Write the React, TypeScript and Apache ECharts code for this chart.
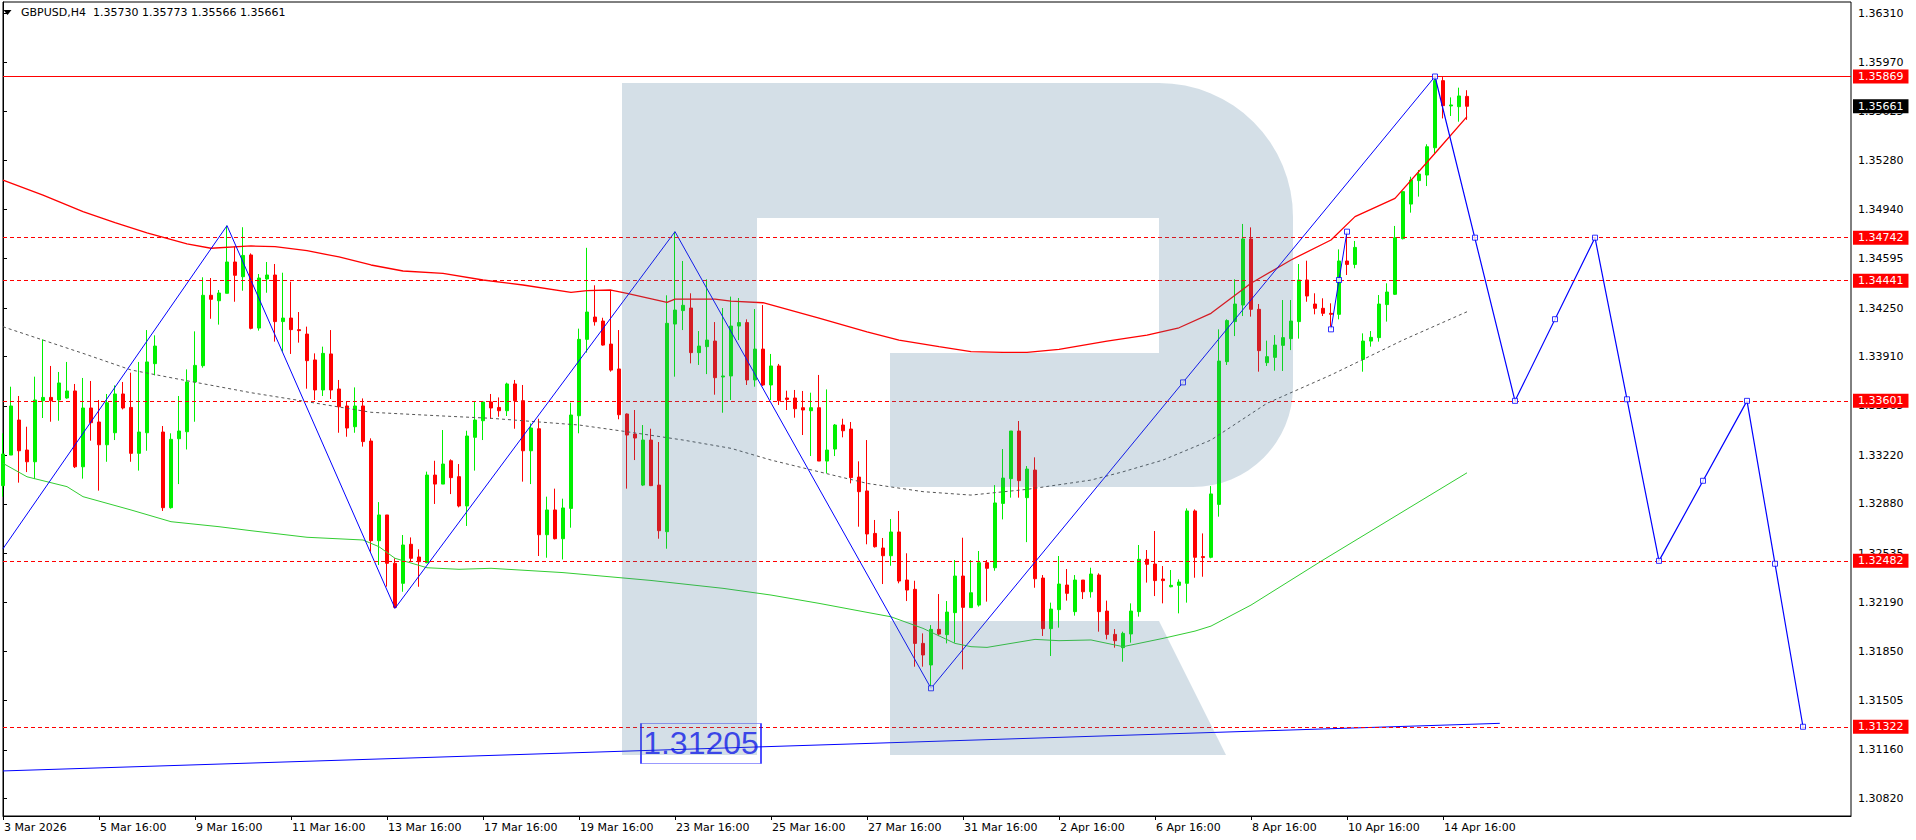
import React, { useEffect, useRef } from 'react';
import * as echarts from 'echarts';

const symbolName = 'GBPUSD';
const timeframe = 'H4';

const dateLabels = ['3 Mar 2026', '5 Mar 16:00', '9 Mar 16:00', '11 Mar 16:00', '13 Mar 16:00', '17 Mar 16:00', '19 Mar 16:00', '23 Mar 16:00', '25 Mar 16:00', '27 Mar 16:00', '31 Mar 16:00', '2 Apr 16:00', '6 Apr 16:00', '8 Apr 16:00', '10 Apr 16:00', '14 Apr 16:00'];
const barsPerLabel = 12;
const totalSlots = 232;

const yTickLabels = ['1.36310', '1.35970', '1.35625', '1.35280', '1.34940', '1.34595', '1.34250', '1.33910', '1.33565', '1.33220', '1.32880', '1.32535', '1.32190', '1.31850', '1.31505', '1.31160', '1.30820'];
const yMin = 1.30698;
const yMax = 1.3639;

const opens = [1.33008, 1.33222, 1.33467, 1.33257, 1.33175, 1.33602, 1.33625, 1.33607, 1.33621, 1.3367, 1.3314, 1.33551, 1.33453, 1.33294, 1.33378, 1.33649, 1.33555, 1.33234, 1.33378, 1.33861, 1.33383, 1.32854, 1.33336, 1.33385, 1.33733, 1.33847, 1.34339, 1.34301, 1.34353, 1.34572, 1.34469, 1.34621, 1.3411, 1.34453, 1.34481, 1.34155, 1.3418, 1.34099, 1.34068, 1.33887, 1.33677, 1.33929, 1.33684, 1.33565, 1.3342, 1.33565, 1.3332, 1.32623, 1.32803, 1.32465, 1.32325, 1.32598, 1.32509, 1.32469, 1.33082, 1.33019, 1.33182, 1.33071, 1.32866, 1.33346, 1.33462, 1.33593, 1.33555, 1.33532, 1.33719, 1.33602, 1.33252, 1.33406, 1.32665, 1.32838, 1.32637, 1.32849, 1.33497, 1.34031, 1.34187, 1.34159, 1.33998, 1.33824, 1.33509, 1.33369, 1.33012, 1.33327, 1.33012, 1.32686, 1.34138, 1.34232, 1.3425, 1.33938, 1.3398, 1.34019, 1.33768, 1.33775, 1.34124, 1.34148, 1.33747, 1.33963, 1.33712, 1.33845, 1.33621, 1.33621, 1.33553, 1.33532, 1.33553, 1.3318, 1.33264, 1.33432, 1.33404, 1.33068, 1.32971, 1.32674, 1.32572, 1.32518, 1.32684, 1.32348, 1.32283, 1.31905, 1.31754, 1.32003, 1.31966, 1.3212, 1.32376, 1.32155, 1.32173, 1.32469, 1.32434, 1.32884, 1.33057, 1.3339, 1.32924, 1.33117, 1.32362, 1.32008, 1.32141, 1.32313, 1.32127, 1.32348, 1.32266, 1.32383, 1.32131, 1.31968, 1.31875, 1.31971, 1.32127, 1.32493, 1.3246, 1.32355, 1.32301, 1.32311, 1.32325, 1.32831, 1.32512, 1.32507, 1.32877, 1.33875, 1.34155, 1.34271, 1.34733, 1.34241, 1.33868, 1.33905, 1.33989, 1.34036, 1.34155, 1.34446, 1.34278, 1.34248, 1.34213, 1.34206, 1.34579, 1.34555, 1.33891, 1.34019, 1.34043, 1.34274, 1.34346, 1.34735, 1.34977, 1.35141, 1.3518, 1.35371, 1.3584, 1.35663, 1.35658, 1.3573];
const highs = [1.33374, 1.337, 1.33635, 1.3342, 1.3377, 1.34031, 1.33845, 1.33803, 1.33873, 1.33719, 1.33761, 1.3374, 1.33607, 1.33649, 1.33709, 1.33733, 1.33798, 1.33873, 1.34096, 1.34059, 1.33425, 1.33374, 1.33635, 1.33821, 1.34087, 1.34465, 1.3446, 1.34376, 1.34826, 1.34679, 1.34815, 1.34632, 1.34488, 1.34572, 1.34558, 1.34497, 1.34434, 1.34222, 1.3412, 1.33933, 1.3398, 1.34096, 1.33747, 1.33595, 1.33695, 1.33618, 1.33339, 1.32893, 1.32803, 1.325, 1.32663, 1.32646, 1.32563, 1.33106, 1.33182, 1.33397, 1.33192, 1.33159, 1.33392, 1.336, 1.336, 1.33649, 1.33625, 1.33728, 1.33747, 1.33712, 1.33443, 1.33476, 1.32931, 1.32987, 1.32917, 1.33588, 1.34106, 1.34671, 1.34409, 1.34182, 1.34376, 1.34096, 1.33513, 1.33537, 1.33432, 1.33406, 1.33313, 1.34339, 1.34784, 1.34579, 1.34353, 1.34089, 1.34451, 1.34152, 1.3425, 1.3433, 1.3432, 1.34171, 1.34243, 1.34271, 1.33929, 1.33859, 1.33672, 1.33677, 1.3367, 1.33658, 1.33782, 1.33681, 1.33439, 1.33476, 1.33453, 1.33178, 1.33327, 1.32768, 1.32642, 1.32775, 1.32831, 1.32535, 1.32343, 1.31975, 1.32033, 1.3225, 1.32201, 1.32488, 1.32644, 1.32488, 1.32551, 1.32488, 1.33012, 1.33264, 1.3339, 1.3346, 1.33145, 1.33206, 1.32383, 1.3219, 1.32516, 1.32425, 1.32383, 1.32348, 1.32434, 1.32395, 1.32204, 1.32005, 1.31987, 1.32185, 1.32593, 1.32558, 1.32691, 1.32446, 1.32418, 1.32353, 1.32849, 1.32842, 1.32674, 1.33005, 1.34101, 1.34171, 1.34451, 1.34838, 1.34814, 1.34278, 1.34022, 1.34061, 1.34306, 1.34306, 1.34558, 1.34581, 1.34353, 1.34318, 1.34283, 1.3466, 1.34777, 1.34719, 1.34073, 1.34089, 1.34341, 1.34423, 1.34824, 1.35064, 1.35168, 1.35215, 1.35395, 1.35869, 1.35865, 1.35723, 1.35791, 1.35773];
const lows = [1.32931, 1.33222, 1.33029, 1.33103, 1.33054, 1.33481, 1.33455, 1.33462, 1.33616, 1.33131, 1.33057, 1.33322, 1.32973, 1.33175, 1.33327, 1.33541, 1.33175, 1.33113, 1.33252, 1.33779, 1.32831, 1.32847, 1.33019, 1.33261, 1.33455, 1.33833, 1.34175, 1.34134, 1.34353, 1.34294, 1.34371, 1.34101, 1.34092, 1.34357, 1.34015, 1.33945, 1.33929, 1.34008, 1.33686, 1.33607, 1.33635, 1.33614, 1.33378, 1.3335, 1.33378, 1.33281, 1.32546, 1.32453, 1.32302, 1.3215, 1.32266, 1.32476, 1.32301, 1.32465, 1.3288, 1.33019, 1.32949, 1.32856, 1.32726, 1.33113, 1.33327, 1.33476, 1.3349, 1.33495, 1.33406, 1.33036, 1.33019, 1.32516, 1.32504, 1.32632, 1.32492, 1.32714, 1.33374, 1.33938, 1.34127, 1.33987, 1.33805, 1.33472, 1.32987, 1.33187, 1.33005, 1.33005, 1.32637, 1.32567, 1.3377, 1.34096, 1.33863, 1.33852, 1.33788, 1.33644, 1.33518, 1.33607, 1.34026, 1.33712, 1.337, 1.33705, 1.33607, 1.33572, 1.33537, 1.33483, 1.33362, 1.33215, 1.3318, 1.33094, 1.33215, 1.33346, 1.33024, 1.32721, 1.32598, 1.32575, 1.3232, 1.32448, 1.32325, 1.32201, 1.31742, 1.31742, 1.316, 1.31956, 1.31905, 1.3191, 1.31723, 1.32155, 1.32162, 1.32197, 1.32413, 1.32772, 1.32924, 1.32924, 1.32613, 1.32294, 1.31957, 1.31817, 1.32015, 1.32204, 1.32099, 1.32215, 1.32225, 1.31987, 1.31933, 1.31875, 1.31777, 1.3191, 1.32092, 1.3233, 1.32236, 1.32185, 1.32297, 1.32115, 1.3219, 1.32364, 1.32371, 1.325, 1.32791, 1.33852, 1.34054, 1.34194, 1.3419, 1.33805, 1.33845, 1.33812, 1.3381, 1.33956, 1.34036, 1.34294, 1.34206, 1.34194, 1.3412, 1.34171, 1.34481, 1.34528, 1.33805, 1.3398, 1.34015, 1.34155, 1.34341, 1.3473, 1.34917, 1.35029, 1.35103, 1.35332, 1.35576, 1.35593, 1.35553, 1.35566];
const closes = [1.33229, 1.33565, 1.33252, 1.33175, 1.33607, 1.33625, 1.33602, 1.33726, 1.3367, 1.3314, 1.33551, 1.33448, 1.33294, 1.33588, 1.33649, 1.33551, 1.33234, 1.33383, 1.33873, 1.33984, 1.32854, 1.33332, 1.3339, 1.33733, 1.33849, 1.34339, 1.34311, 1.34355, 1.34572, 1.34479, 1.34618, 1.34108, 1.3446, 1.34481, 1.34155, 1.3418, 1.34099, 1.34092, 1.33882, 1.33677, 1.33933, 1.33677, 1.3356, 1.33411, 1.33565, 1.33316, 1.32623, 1.32803, 1.32465, 1.32157, 1.32593, 1.325, 1.32476, 1.33082, 1.33019, 1.33159, 1.33064, 1.32866, 1.33355, 1.33467, 1.33593, 1.33551, 1.33532, 1.33719, 1.33602, 1.33252, 1.33411, 1.32665, 1.32838, 1.32637, 1.32852, 1.33502, 1.34031, 1.34222, 1.34154, 1.33991, 1.33816, 1.33504, 1.33362, 1.33341, 1.33327, 1.33008, 1.32693, 1.34143, 1.34236, 1.34269, 1.33938, 1.33984, 1.34026, 1.33763, 1.33775, 1.34124, 1.34148, 1.33747, 1.33963, 1.33712, 1.33845, 1.33602, 1.33611, 1.33546, 1.33537, 1.33553, 1.3318, 1.33257, 1.33432, 1.33392, 1.33064, 1.32966, 1.3267, 1.32581, 1.32518, 1.32684, 1.32341, 1.32278, 1.31905, 1.31824, 1.32003, 1.3197, 1.32124, 1.32376, 1.32157, 1.32259, 1.32469, 1.3243, 1.32887, 1.33061, 1.3339, 1.33043, 1.33124, 1.32357, 1.32008, 1.32145, 1.3232, 1.32255, 1.32348, 1.32266, 1.3239, 1.32127, 1.31968, 1.31924, 1.31975, 1.32131, 1.32493, 1.32458, 1.32344, 1.32344, 1.32311, 1.32334, 1.32831, 1.32507, 1.32505, 1.3295, 1.33879, 1.34162, 1.34278, 1.34733, 1.34241, 1.33952, 1.3391, 1.33991, 1.34043, 1.34159, 1.34446, 1.34334, 1.34248, 1.34213, 1.34206, 1.34579, 1.34555, 1.34674, 1.34019, 1.34045, 1.34278, 1.34362, 1.34742, 1.35064, 1.35145, 1.35187, 1.35378, 1.3584, 1.35665, 1.3567, 1.35733, 1.35661];

const redMa = [[0, 1.35145], [5, 1.3504], [10, 1.34924], [14, 1.34847], [18, 1.34775], [23, 1.34698], [26, 1.34668], [31, 1.34684], [34, 1.34679], [38, 1.34651], [42, 1.34607], [46, 1.34551], [50, 1.34509], [55, 1.34493], [60, 1.34446], [65, 1.34411], [71, 1.3436], [73, 1.34372], [76, 1.34376], [78, 1.34353], [83, 1.3429], [84, 1.34313], [89, 1.34313], [91, 1.34299], [95, 1.34287], [102, 1.3418], [108, 1.34084], [112, 1.34026], [117, 1.3398], [121, 1.33945], [125, 1.3394], [128, 1.3394], [132, 1.33961], [138, 1.34019], [143, 1.34061], [147, 1.34112], [151, 1.34213], [156, 1.34423], [161, 1.34586], [166, 1.34726], [169, 1.34889], [174, 1.35017], [179, 1.35332], [183, 1.35588]];
const grayMa = [[0, 1.34119], [10, 1.33933], [16, 1.33817], [22, 1.33752], [31, 1.33658], [38, 1.33595], [46, 1.33521], [55, 1.33495], [61, 1.33479], [72, 1.33432], [78, 1.33385], [85, 1.33327], [91, 1.33269], [96, 1.33187], [102, 1.33105], [108, 1.33024], [115, 1.32966], [121, 1.32942], [128, 1.32982], [136, 1.33047], [140, 1.33105], [145, 1.33187], [151, 1.33327], [158, 1.33584], [166, 1.33782], [175, 1.34026], [183, 1.34224]];
const greenMa = [[0, 1.33164], [3, 1.3307], [8, 1.33001], [10, 1.32931], [16, 1.32838], [21, 1.32756], [27, 1.32721], [31, 1.32693], [38, 1.32647], [45, 1.32628], [47, 1.32581], [49, 1.325], [53, 1.32434], [57, 1.32423], [61, 1.3243], [70, 1.324], [81, 1.32345], [90, 1.3229], [96, 1.32243], [102, 1.32185], [108, 1.32122], [111, 1.32091], [115, 1.3201], [119, 1.31905], [121, 1.31882], [123, 1.31877], [129, 1.31933], [132, 1.31924], [136, 1.31929], [140, 1.31882], [145, 1.3194], [149, 1.31991], [151, 1.32026], [156, 1.32173], [161, 1.32348], [165, 1.32488], [183, 1.33098]];

const historyZigzag = [[0, 1.32567], [28, 1.34826], [49, 1.3215], [84, 1.34784], [116, 1.31591], [179, 1.35869]];
const minorZigzag = [[166, 1.34101], [167, 1.34446], [168, 1.34784]];
const forecastZigzag = [[179, 1.35869], [189, 1.33601], [199, 1.34742], [207, 1.32482], [218, 1.33601], [225, 1.31322]];
const zigzagMarkers = [[116, 1.31591], [147.5, 1.3373], [166, 1.34101], [167, 1.34446], [168, 1.34784], [179, 1.35869], [184, 1.34742], [189, 1.33601], [194, 1.34172], [199, 1.34742], [203, 1.33612], [207, 1.32482], [212.5, 1.33042], [218, 1.33601], [221.5, 1.32462], [225, 1.31322]];
const trendLine = [[0, 1.31013], [187.1, 1.31346]];
const trendText = { bar: 87.25, price: 1.31205, text: '1.31205' };

const peakLevel = 1.35869;
const currentPrice = 1.35661;
const dashedLevels = [1.34742, 1.34441, 1.33601, 1.32482, 1.31322];

const UP = '#00f000';
const DOWN = '#ff0000';
const FONT = 'DejaVu Sans';

const R_PATH = 'M622 83 L1159 83 A134 134 0 0 1 1293 217 L1293 387 A100 100 0 0 1 1193 487 L890 487 L890 353 L1159 353 L1159 218 L757 218 L757 755 L622 755 Z M890 621 L1159 621 L1226 755 L890 755 Z';
echarts.graphic.registerShape('rlogo', echarts.graphic.extendPath(R_PATH, {}));

export default function App() {
  const ref = useRef<HTMLDivElement>(null);
  useEffect(() => {
    const chart = echarts.init(ref.current!, null, { renderer: 'svg' });
    const categories: string[] = [];
    for (let i = 0; i < totalSlots; i++) {
      const k = i / barsPerLabel;
      categories.push(i % barsPerLabel === 0 && k < dateLabels.length ? dateLabels[k] : '');
    }
    const showAt = (index: number, value: string) => value !== '';
    const candleData = opens.map((o, i) => [o, closes[i], lows[i], highs[i]]);
    const last = candleData.length - 1;
    const titleText = `${symbolName},${timeframe}  ${opens[last].toFixed(5)} ${highs[last].toFixed(5)} ${lows[last].toFixed(5)} ${closes[last].toFixed(5)}`;
    const tickVals = yTickLabels.map(Number);
    const lvlLabel = (bg: string, v: number) => ({
      show: true,
      position: 'end',
      distance: 2,
      formatter: v.toFixed(5),
      backgroundColor: bg,
      color: '#fff',
      fontFamily: FONT,
      fontSize: 11,
      lineHeight: 12,
      padding: [1, 5, 1, 5],
    });
    const markLineData: any[] = [
      { yAxis: peakLevel, lineStyle: { color: '#ff0000', type: 'solid', width: 1 }, label: lvlLabel('#ff0000', peakLevel) },
      ...dashedLevels.map((v) => ({ yAxis: v, lineStyle: { color: '#ff0000', type: [4, 3], width: 1 }, label: lvlLabel('#ff0000', v) })),
      { yAxis: currentPrice, lineStyle: { color: 'rgba(0,0,0,0)', width: 1 }, label: lvlLabel('#000000', currentPrice) },
    ];
    const option: any = {
      animation: false,
      backgroundColor: '#ffffff',
      title: {
        text: titleText,
        left: 21,
        top: 7,
        padding: 0,
        textStyle: { fontFamily: FONT, fontSize: 11, fontWeight: 'normal', color: '#000' },
      },
      grid: { left: 3, right: 65, top: 2, bottom: 24, show: true, borderColor: '#000', borderWidth: 1, backgroundColor: 'transparent' },
      xAxis: [
        {
          type: 'category',
          data: categories,
          boundaryGap: false,
          axisLine: { show: true, lineStyle: { color: '#000', width: 1 } },
          axisTick: { show: true, interval: showAt, length: 4, lineStyle: { color: '#000' } },
          axisLabel: { interval: showAt, align: 'left', margin: 6, color: '#000', fontFamily: FONT, fontSize: 11, padding: [0, 0, 0, 1] },
          splitLine: { show: false },
        },
        { type: 'value', min: 0, max: totalSlots - 1, show: false },
      ],
      yAxis: [
        {
          type: 'value',
          position: 'right',
          min: yMin,
          max: yMax,
          scale: true,
          axisLine: { show: true, lineStyle: { color: '#000' } },
          axisTick: { show: true, length: 4, customValues: tickVals, lineStyle: { color: '#000' } },
          axisLabel: { customValues: tickVals, formatter: (v: number) => v.toFixed(5), color: '#000', fontFamily: FONT, fontSize: 11, margin: 7 },
          splitLine: { show: false },
        },
      ],
      graphic: [
        { type: 'rlogo', x: 0, y: 0, z: 100, silent: true, style: { fill: 'rgba(72,119,153,0.235)' } },
        { type: 'polygon', z: 110, silent: true, shape: { points: [[3.5, 10], [11.5, 10], [7.5, 15]] }, style: { fill: '#000' } },
      ],
      series: [
        {
          type: 'candlestick',
          xAxisIndex: 0,
          yAxisIndex: 0,
          data: candleData,
          barWidth: 4,
          z: 2,
          itemStyle: { color: UP, color0: DOWN, borderColor: UP, borderColor0: DOWN, borderWidth: 1 },
          markLine: { silent: true, precision: 5, symbol: ['none', 'none'], animation: false, data: markLineData },
        },
        { type: 'line', xAxisIndex: 1, yAxisIndex: 0, data: redMa, symbol: 'none', z: 3, lineStyle: { color: '#ff0000', width: 1.3 } },
        { type: 'line', xAxisIndex: 1, yAxisIndex: 0, data: grayMa, symbol: 'none', z: 3, lineStyle: { color: '#555555', width: 1, type: [3, 3] } },
        { type: 'line', xAxisIndex: 1, yAxisIndex: 0, data: greenMa, symbol: 'none', z: 3, lineStyle: { color: '#32cd32', width: 1 } },
        { type: 'line', xAxisIndex: 1, yAxisIndex: 0, data: trendLine, symbol: 'none', z: 4, lineStyle: { color: '#0000ff', width: 1 } },
        { type: 'line', xAxisIndex: 1, yAxisIndex: 0, data: historyZigzag, symbol: 'none', z: 4, lineStyle: { color: '#0000ff', width: 1 } },
        { type: 'line', xAxisIndex: 1, yAxisIndex: 0, data: minorZigzag, symbol: 'none', z: 4, lineStyle: { color: '#0000ff', width: 1 } },
        { type: 'line', xAxisIndex: 1, yAxisIndex: 0, data: forecastZigzag, symbol: 'none', z: 4, lineStyle: { color: '#0000ff', width: 1.2 } },
        {
          type: 'scatter', xAxisIndex: 1, yAxisIndex: 0, data: zigzagMarkers, symbol: 'rect', symbolSize: 5, z: 5,
          itemStyle: { color: '#ffffff', borderColor: '#0000ff', borderWidth: 1 },
        },
        {
          type: 'scatter', xAxisIndex: 1, yAxisIndex: 0, data: [[trendText.bar, trendText.price]], symbol: 'rect', symbolSize: [120, 40], z: 6,
          itemStyle: { color: 'rgba(255,255,255,0)', borderColor: '#0000ff', borderWidth: 1 },
          label: { show: true, position: 'inside', formatter: trendText.text, color: '#0000ff', fontFamily: 'Liberation Sans', fontSize: 32 },
        },
      ],
    };
    chart.setOption(option);
    return () => chart.dispose();
  }, []);
  return <div ref={ref} style={{ position: 'fixed', left: 0, top: 0, width: 1916, height: 840 }} />;
}
